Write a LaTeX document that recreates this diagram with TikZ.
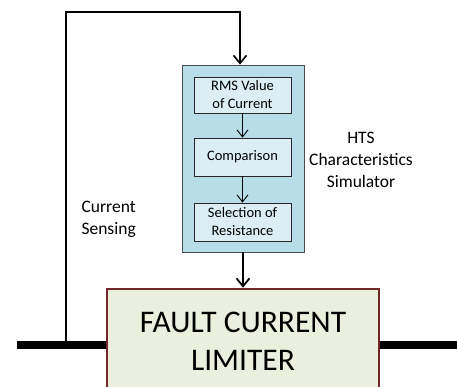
\documentclass[tikz,border=0pt]{standalone}
\usepackage{fontspec}
\setmainfont{Carlito}
\usetikzlibrary{arrows.meta,positioning}
\definecolor{simblue}{RGB}{183,221,232}
\definecolor{stepblue}{RGB}{218,238,243}
\definecolor{fclgreen}{RGB}{235,240,222}
\definecolor{fclred}{RGB}{110,40,40}
\tikzset{
  stepbox/.style={draw=black!85, fill=stepblue, line width=0.8pt, minimum width=97pt,
    inner sep=0pt, align=center, font=\fontsize{14.5}{18}\selectfont},
  thinarrow/.style={-{Straight Barb[length=7pt,width=11pt]}, line width=0.9pt},
  thickarrow/.style={-{Straight Barb[length=8pt,width=13pt]}, line width=1.8pt},
  sidetext/.style={font=\fontsize{17.5}{22}\selectfont}
}
\begin{document}
\begin{tikzpicture}[x=1pt,y=-1pt]
  %%%%% frame %%%%%
  \clip (0,0) rectangle (457,387);

  % bus bar
  \coordinate (busL) at (17,345);
  \coordinate (busR) at (457,345);
  \draw[line width=8pt] (busL) -- (busR);

  % fault current limiter
  \node[draw=fclred, fill=fclgreen, line width=2.5pt, minimum width=272pt, minimum height=104pt,
        inner sep=0pt, align=center, font=\fontsize{31.5}{38}\selectfont] (fcl) at (243,341)
        {FAULT CURRENT\\LIMITER};

  % simulator
  \node[draw=black!70, fill=simblue, line width=0.8pt, minimum width=122pt, minimum height=187pt,
        inner sep=0pt] (sim) at (243,158.5) {};
  \node[stepbox, minimum height=36pt] (rms) at (242.5,95) {RMS Value\\of Current};
  \node[stepbox, minimum height=38pt] (comp) at (242.5,157) {Comparison};
  \node[stepbox, minimum height=38pt] (sel) at (242.5,222) {Selection of\\Resistance};

  \draw[thinarrow] (rms) -- (comp);
  \draw[thinarrow] (comp) -- (sel);
  \draw[thickarrow] (sim) -- (fcl);

  % sensing loop
  \coordinate (tap) at (66,345);
  \coordinate (topL) at (66,12);
  \draw[thickarrow, line width=1.6pt] (tap) -- (topL) -| ([xshift=-3pt]sim.north);

  % labels
  \node[sidetext, align=center] (hts) at (361,160) {HTS\\Characteristics\\Simulator};
  \node[sidetext, align=left, anchor=west] (sensing) at (78,219.5) {Current\\Sensing};
\end{tikzpicture}
\end{document}
